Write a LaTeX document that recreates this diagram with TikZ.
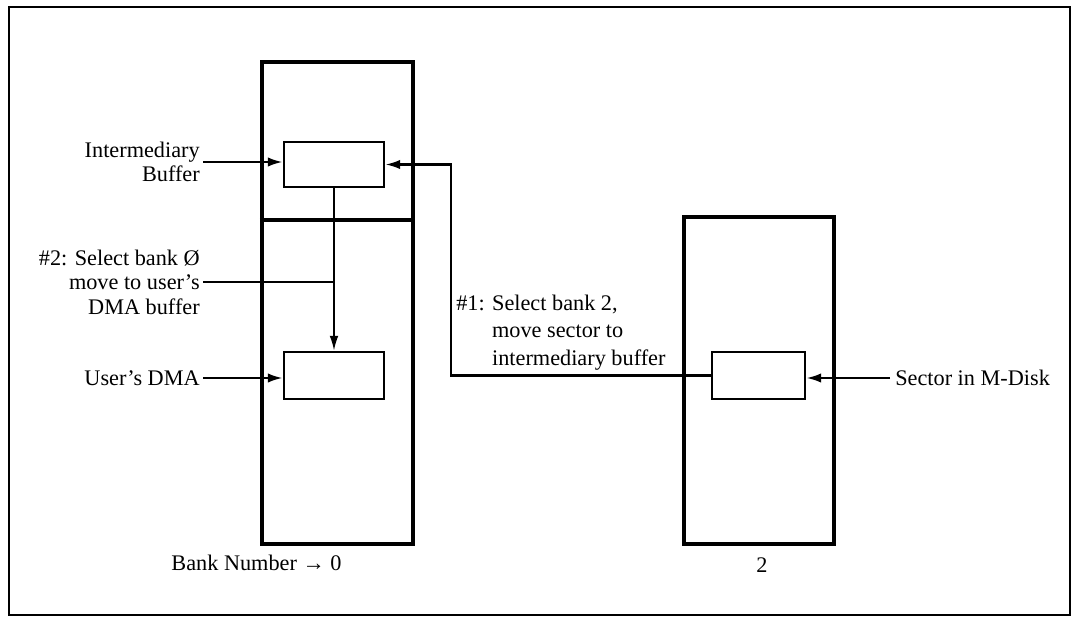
\documentclass[tikz,border=0pt]{standalone}
\usepackage{fontspec}
\setmainfont{Liberation Serif}
\usetikzlibrary{arrows.meta}
\begin{document}
\begin{tikzpicture}[x=0.75pt,y=-0.75pt,
  bank/.style={draw,line width=3.2pt,minimum width=113.25pt,inner sep=0pt},
  buf/.style={draw,line width=2.1pt,inner sep=0pt,minimum height=35.25pt},
  conn/.style={line width=1.7pt},
  arr/.style={line width=1.7pt,-{Latex[length=11pt,width=7pt]}},
  lbl/.style={inner sep=0pt,font=\fontsize{16.7pt}{18.4pt}\selectfont},
  lblb/.style={inner sep=0pt,font=\fontsize{16.7pt}{20.6pt}\selectfont}]
\useasboundingbox (0,0) rectangle (1072,617);
\draw[line width=2.2pt] (9,7) rectangle (1070,615);
% banks
\node[bank,minimum height=361.5pt] (bank0) at (337.5,303) {};
\node[bank,minimum width=112.5pt,minimum height=245.25pt] (bank2) at (759,380.5) {};
\coordinate (dv) at (0,220);
\draw[line width=3.2pt] (bank0.west |- dv) -- (bank0.east |- dv);
% buffers
\node[buf,minimum width=75pt,minimum height=33.75pt] (ib) at (334,164.5) {};
\node[buf,minimum width=75pt] (ud) at (334,375.5) {};
\node[buf,minimum width=69.75pt] (sec) at (758.5,375.5) {};
% labels
\node[lbl,anchor=east,align=right] (ibl) at (200,162) {Intermediary\\Buffer};
\node[lbl,anchor=east,align=right] (l2) at (200,282) {\#2: Select bank Ø\\move to user’s\\DMA buffer};
\node[lbl,anchor=east] (udl) at (200,378) {User’s DMA};
\node[lblb,anchor=west,align=left] (l1) at (456,332.5) {\#1: Select bank 2,\\\hphantom{\#1: }move sector to\\\hphantom{\#1: }intermediary buffer};
\node[lbl,anchor=west] (secl) at (895,378) {Sector in M-Disk};
\node[lbl] (b0l) at (256.5,563) {Bank Number → 0};
\node[lbl] (b2l) at (762,565) {2};
% connectors
\draw[arr] (ibl.east) ++(3,0) coordinate (ibs) -- (ib.west |- ibs);
\draw[line width=1.3pt,-{Latex[length=11pt,width=6.5pt]}] (ib.south) -- (ud.north);
\draw[conn] (l2.east) ++(3,0) coordinate (l2s) -- (l2s -| ib.south);
\draw[arr] (udl.east) ++(3,0) coordinate (uds) -- (ud.west |- uds);
\coordinate (c1) at (451,0);
\draw[arr] (sec.west) -- (sec.west -| c1) |- (ib.east);
\draw[arr] (secl.west) ++(-5,0) coordinate (ss) -- (sec.east |- ss);
\end{tikzpicture}
\end{document}
